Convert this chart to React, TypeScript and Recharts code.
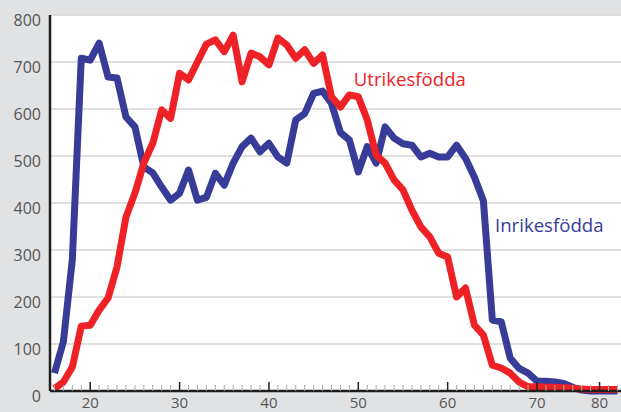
import { LineChart, Line, XAxis, YAxis, CartesianGrid, ReferenceDot } from "recharts";

const AGES = [
  16, 17, 18, 19, 20, 21, 22, 23, 24, 25, 26, 27, 28, 29, 30, 31,
  32, 33, 34, 35, 36, 37, 38, 39, 40, 41, 42, 43, 44, 45, 46, 47,
  48, 49, 50, 51, 52, 53, 54, 55, 56, 57, 58, 59, 60, 61, 62, 63,
  64, 65, 66, 67, 68, 69, 70, 71, 72, 73, 74, 75, 76, 77, 78, 79,
];

const INRIKES = [
  38, 105, 280, 708, 704, 740, 668, 666, 583, 562, 477, 464, 434, 406, 421, 470,
  406, 412, 463, 438, 485, 520, 538, 509, 527, 498, 485, 577, 590, 633, 638, 612,
  550, 534, 466, 520, 485, 562, 538, 526, 523, 498, 506, 498, 498, 523, 495, 455,
  405, 151, 147, 70, 48, 38, 21, 21, 19, 16, 8, 2, 0, 0, 0, 0,
];

const UTRIKES = [
  5, 19, 51, 138, 140, 172, 198, 264, 370, 421, 485, 527, 598, 580, 676, 662,
  700, 738, 747, 722, 757, 658, 719, 711, 694, 751, 736, 708, 726, 697, 715, 626,
  604, 630, 626, 577, 502, 485, 449, 428, 385, 349, 328, 293, 285, 200, 219, 140,
  119, 55, 49, 38, 19, 9, 9, 8, 8, 7, 6, 4, 3, 3, 3, 3,
];

const Y_TICKS = [0, 100, 200, 300, 400, 500, 600, 700, 800];
// major tick positions and the label printed under each (the last one is labelled 80 in the source)
const X_MAJOR = [20, 30, 40, 50, 60, 70, 77];
const X_MAJOR_LABELS = ["20", "30", "40", "50", "60", "70", "80"];

const BLUE = "#363c97";
const RED = "#ee2226";
const FONT = "'Open Sans', sans-serif";

const data = AGES.map((age, i) => ({ age, inrikes: INRIKES[i], utrikes: UTRIKES[i] }));

function XTick({ x, y, payload }: any) {
  const idx = X_MAJOR.indexOf(payload.value);
  const major = idx >= 0;
  return (
    <g>
      <line x1={x} x2={x} y1={y} y2={y - (major ? 9 : 6)} stroke={major ? "#222" : "#aaa"} strokeWidth={major ? 1.5 : 1} />
      {major && (
        <text x={x} y={y + 17} textAnchor="middle" fill="#555" fontSize={15} fontFamily={FONT}>
          {X_MAJOR_LABELS[idx]}
        </text>
      )}
    </g>
  );
}

function YTick({ x, y, payload }: any) {
  return (
    <text x={x - 9} y={y + 11} textAnchor="end" fill="#555" fontSize={16} fontFamily={FONT}>
      {payload.value}
    </text>
  );
}

export default function App() {
  return (
    <div style={{ position: "absolute", left: 0, top: 0, width: 621, height: 412, background: "#e1e2e4" }}>
      <LineChart width={621} height={412} data={data} margin={{ top: 15, right: 0, bottom: 0, left: 0 }}>
        <CartesianGrid vertical={false} fill="#ffffff" stroke="#d6d6d6" strokeWidth={1.5} />
        <XAxis
          dataKey="age"
          type="number"
          domain={[15.5, 79.4]}
          ticks={AGES}
          interval={0}
          height={21}
          tickSize={0}
          tickMargin={0}
          tickLine={false}
          axisLine={{ stroke: "#1e1e1e", strokeWidth: 2.5 }}
          tick={<XTick />}
        />
        <YAxis
          type="number"
          domain={[0, 800]}
          ticks={Y_TICKS}
          interval={0}
          width={50}
          tickSize={0}
          tickMargin={0}
          tickLine={false}
          axisLine={{ stroke: "#1e1e1e", strokeWidth: 2.5 }}
          tick={<YTick />}
        />
        <Line type="linear" dataKey="inrikes" stroke={BLUE} strokeWidth={7} dot={false} strokeLinejoin="round" isAnimationActive={false} />
        <Line type="linear" dataKey="utrikes" stroke={RED} strokeWidth={7} dot={false} strokeLinejoin="round" isAnimationActive={false} />
        <ReferenceDot
          x={49.5}
          y={664}
          r={0}
          ifOverflow="visible"
          label={{ value: "Utrikesfödda", position: "right", offset: 0, fill: RED, fontSize: 18.6, fontFamily: FONT }}
        />
        <ReferenceDot
          x={65.3}
          y={353}
          r={0}
          ifOverflow="visible"
          label={{ value: "Inrikesfödda", position: "right", offset: 0, fill: BLUE, fontSize: 18.6, fontFamily: FONT }}
        />
      </LineChart>
    </div>
  );
}
